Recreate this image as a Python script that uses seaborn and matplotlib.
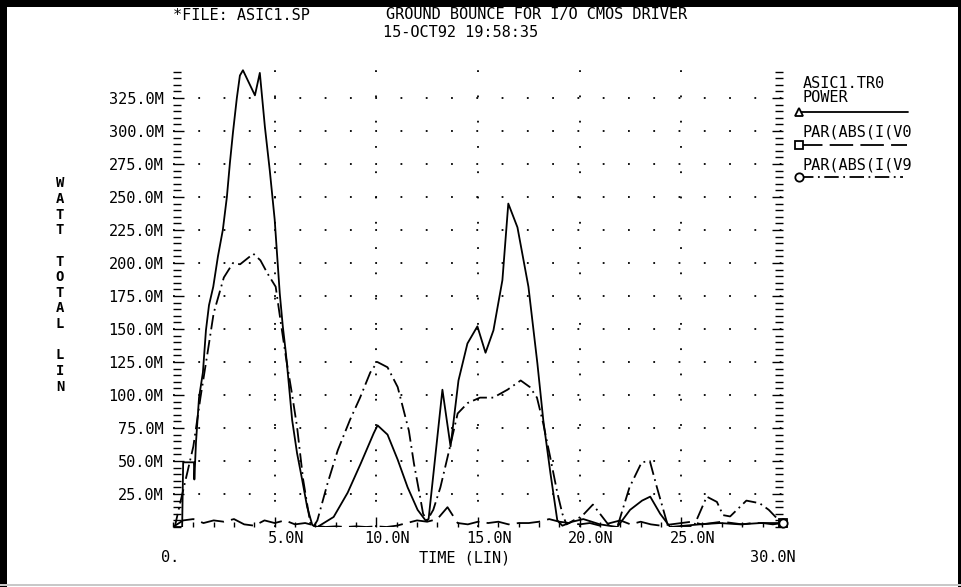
import numpy as np
import pandas as pd
import matplotlib
matplotlib.use("Agg")
import matplotlib.pyplot as plt
import seaborn as sns
from matplotlib.lines import Line2D
from matplotlib.patches import Rectangle
from matplotlib.ticker import MultipleLocator, FixedLocator
from matplotlib.transforms import ScaledTranslation, blended_transform_factory

# ---------------- data (time in ns, values in milli-units) ----------------
power_t = [0, 0.45, 0.5, 1.03, 1.05, 1.13, 1.28, 1.47, 1.62, 1.77, 1.98, 2.21, 2.45,
           2.65, 2.8, 2.95, 3.14, 3.29, 3.44, 4.03, 4.27, 4.52, 4.76, 5.0, 5.25, 5.4,
           5.55, 5.68, 5.86, 6.1, 6.35, 6.6, 6.85, 7.1, 7.9, 8.59, 9.23, 9.87, 10.06,
           10.55, 11.05, 11.54, 12.03, 12.42, 12.57, 13.25, 13.65, 14.04, 14.48, 14.97,
           15.37, 15.76, 16.2, 16.49, 16.94, 17.48, 17.92, 18.21, 18.56, 18.9, 19.15,
           19.64, 20.18, 21.0, 21.85, 22.48, 23.07, 23.47, 23.96, 24.45, 25.9, 26.9,
           27.9, 28.9, 30.0]
power_v = [0, 0, 49, 49, 36, 64, 98, 117, 149, 168, 182, 205, 225,
           250, 276, 299, 325, 342, 346, 327, 344, 303, 270, 233, 177, 152,
           132, 111, 81, 56, 36, 15, 1.5, 0, 7.6, 26, 48, 71, 77,
           70, 51, 30, 13, 5, 6, 104, 61, 111, 139, 152,
           132, 149, 187, 245, 227, 182, 124, 81, 41, 5, 1,
           4, 6, 2, 0, 13, 20, 23, 10, 0, 2, 3,
           2, 3, 3]

v9_t = [0, 0.1, 0.35, 0.7, 1.0, 1.35, 1.7, 2.0, 2.5, 2.95, 3.3, 3.95, 4.3, 4.65, 5.05,
        5.3, 5.55, 5.85, 6.1, 6.4, 6.75, 6.9, 7.1, 7.6, 8.1, 8.7, 9.2, 9.7, 10.05, 10.55,
        11.05, 11.25, 11.6, 11.85, 12.15, 12.3, 12.5, 12.8, 13.15, 13.55, 14.0, 14.5, 15.1,
        15.75, 16.45, 17.1, 17.55, 17.9, 18.2, 18.55, 18.9, 19.15, 19.35, 19.7, 20.1,
        20.65, 21.1, 21.5, 21.85, 22.45, 23.05, 23.45, 23.8, 24.3, 24.55, 25.6, 26.25,
        26.75, 27.05, 27.4, 28.2, 28.85, 29.3, 29.8, 30.0]
v9_v = [0, 1, 18, 41, 61, 98, 132, 162, 189, 200, 199, 207, 202, 192, 182,
        155, 129, 101, 76, 36, 3, 0, 5, 33, 58, 81, 98, 117, 125, 121,
        106, 94, 73, 48, 23, 10, 5, 13, 30, 56, 86, 94, 98,
        98, 104, 111, 106, 98, 79, 53, 26, 10, 2, 5, 8,
        17, 8, 0, 0, 30, 49, 50, 30, 3, 0, 0, 23,
        19, 9, 8, 20, 18, 13, 5, 3]

v0_t = [0, 0.5, 1, 1.5, 2, 2.5, 3, 3.5, 4, 4.5, 5, 5.5, 6, 6.5, 7, 7.5, 8, 8.5, 9, 9.5,
        10, 10.5, 11, 11.5, 12, 12.5, 13, 13.5, 14, 14.5, 15, 15.5, 16, 16.5, 17, 17.5,
        18, 18.5, 19, 19.5, 20, 20.5, 21, 21.5, 22, 22.5, 23, 23.5, 24, 24.5, 25, 25.5,
        26, 26.5, 27, 27.5, 28, 28.5, 29, 29.5, 30]
v0_v = [0, 5, 6, 3, 5, 4, 6, 2, 1, 5, 3, 5, 2, 3, 1, 0, 0.5, 0, 0.5, 0,
        0.5, 0, 1, 3, 5, 4, 6, 15, 3, 2, 4, 3, 4, 2, 3, 3,
        4, 6, 4, 3, 2, 3, 1, 3, 5, 2, 4, 2, 1, 2, 3, 4,
        2, 3, 4, 3, 2, 3, 3, 2, 3]

y_ticks = [25, 50, 75, 100, 125, 150, 175, 200, 225, 250, 275, 300, 325]
y_labels = ["25.0M", "50.0M", "75.0M", "100.0M", "125.0M", "150.0M", "175.0M",
            "200.0M", "225.0M", "250.0M", "275.0M", "300.0M", "325.0M"]
x_ticks = [5, 10, 15, 20, 25]
x_labels = ["5.0N", "10.0N", "15.0N", "20.0N", "25.0N"]

legend_names = ["POWER", "PAR(ABS(I(V0", "PAR(ABS(I(V9"]

# ---------------- style ----------------
sns.set_style("white")
plt.rcParams['font.family'] = ['DejaVu Sans Mono', 'DejaVu Sans']
plt.rcParams['text.color'] = 'black'
plt.rcParams['xtick.color'] = 'black'
plt.rcParams['ytick.color'] = 'black'
plt.rcParams['axes.labelcolor'] = 'black'

W, H = 962, 587
fig = plt.figure(figsize=(W / 100, H / 100), dpi=100)
ax = fig.add_axes([173 / W, 1 - 527 / H, 610 / W, 459 / H])

LW = 1.3
dash_v0 = (0, (13, 4))
dashdot_v9 = (0, (8, 2.5, 1, 2.5))

df_p = pd.DataFrame({"t": power_t, "v": power_v})
df_0 = pd.DataFrame({"t": v0_t, "v": v0_v})
df_9 = pd.DataFrame({"t": v9_t, "v": v9_v})

sns.lineplot(data=df_0, x="t", y="v", ax=ax, color="black", lw=LW,
             linestyle=dash_v0, estimator=None, sort=False)
sns.lineplot(data=df_9, x="t", y="v", ax=ax, color="black", lw=LW,
             linestyle=dashdot_v9, estimator=None, sort=False)
sns.lineplot(data=df_p, x="t", y="v", ax=ax, color="black", lw=LW,
             estimator=None, sort=False)

# end-of-curve symbols
for tt, vv, mk in [(power_t, power_v, '^'), (v0_t, v0_v, 's'), (v9_t, v9_v, 'o')]:
    ax.plot([tt[-1]], [vv[-1]], marker=mk, ms=6, mfc='white', mec='black',
            mew=1.3, clip_on=False, zorder=5)

ax.set_xlim(0, 30)
ax.set_ylim(0, 347.7)
ax.set_xlabel("")
ax.set_ylabel("")
for s in ax.spines.values():
    s.set_visible(False)

ax.yaxis.set_major_locator(FixedLocator(y_ticks))
ax.set_yticklabels(y_labels)
ax.yaxis.set_minor_locator(MultipleLocator(5))
ax.xaxis.set_major_locator(FixedLocator(x_ticks))
ax.set_xticklabels(x_labels)
ax.xaxis.set_minor_locator(MultipleLocator(1))

ax.tick_params(axis='y', which='both', direction='in', left=True, right=True,
               labelleft=True, labelright=False, width=1.0, color='black',
               labelcolor='black', labelsize=11, pad=7)
ax.tick_params(axis='y', which='major', length=8)
ax.tick_params(axis='y', which='minor', length=5.5)
ax.tick_params(axis='x', which='both', direction='in', bottom=True, top=False,
               width=1.0, color='black', labelcolor='black', labelsize=11, pad=3)
ax.tick_params(axis='x', which='major', length=7)
ax.tick_params(axis='x', which='minor', length=3.6)

for lbl in ax.get_xticklabels():
    lbl.set_transform(lbl.get_transform() + ScaledTranslation(11 / 100, 0, fig.dpi_scale_trans))

ax.grid(True, which='major', axis='both', color='black', lw=1.3,
        linestyle=(0, (1, 13)))

# second row of x labels
btr = blended_transform_factory(ax.transData, ax.transAxes)
yrow = -(558 - 527) / 459
ax.text(0, yrow, "0.", transform=btr + ScaledTranslation(-3 / 100, 0, fig.dpi_scale_trans),
        ha='center', va='center', fontsize=11)
ax.text(30, yrow, "30.0N", transform=btr + ScaledTranslation(-10 / 100, 0, fig.dpi_scale_trans),
        ha='center', va='center', fontsize=11)
ax.text((465 - 173) / 610, yrow, "TIME (LIN)", transform=ax.transAxes,
        ha='center', va='center', fontsize=11)

# vertical stacked y label
fig.text(60 / W, 1 - 285 / H, "W\nA\nT\nT\n\nT\nO\nT\nA\nL\n\nL\nI\nN",
         ha='center', va='center', fontsize=10, linespacing=1.15, fontweight='bold')

# header
fig.text(173 / W, 1 - 15 / H, "*FILE: ASIC1.SP", ha='left', va='center', fontsize=11)
fig.text(386 / W, 1 - 15 / H, "GROUND BOUNCE FOR I/O CMOS DRIVER", ha='left',
         va='center', fontsize=11)
fig.text(383 / W, 1 - 32.5 / H, "15-OCT92 19:58:35", ha='left', va='center', fontsize=11)

# legend block (right side)
fig.text(803 / W, 1 - 84 / H, "ASIC1.TR0", ha='left', va='center', fontsize=11)
leg_rows = [(98, 112, None, '^'), (132, 145, dash_v0, 's'), (165, 177, dashdot_v9, 'o')]
ends = [908, 907, 903]
for name, (ty, ly, ls, mk), xe in zip(legend_names, leg_rows, ends):
    fig.text(803 / W, 1 - ty / H, name, ha='left', va='center', fontsize=11)
    fig.add_artist(Line2D([799 / W, xe / W], [1 - ly / H, 1 - ly / H], transform=fig.transFigure,
                          color='black', lw=LW, linestyle=ls if ls else '-'))
    fig.add_artist(Line2D([799 / W], [1 - ly / H], transform=fig.transFigure, marker=mk,
                          ms=6, mfc='white', mec='black', mew=1.3, linestyle='none'))

# window border
fig.add_artist(Rectangle((0, 0), 7 / W, 1, transform=fig.transFigure, color='black', lw=0))
fig.add_artist(Rectangle((0, 1 - 7 / H), 1, 7 / H, transform=fig.transFigure, color='black', lw=0))
fig.add_artist(Rectangle((1 - 4 / W, 0), 4 / W, 1, transform=fig.transFigure, color='black', lw=0))
fig.add_artist(Rectangle((0, 1 / H), 1, 2 / H, transform=fig.transFigure, color='#c8c8c8', lw=0))

fig.savefig("out.png", dpi=100)
